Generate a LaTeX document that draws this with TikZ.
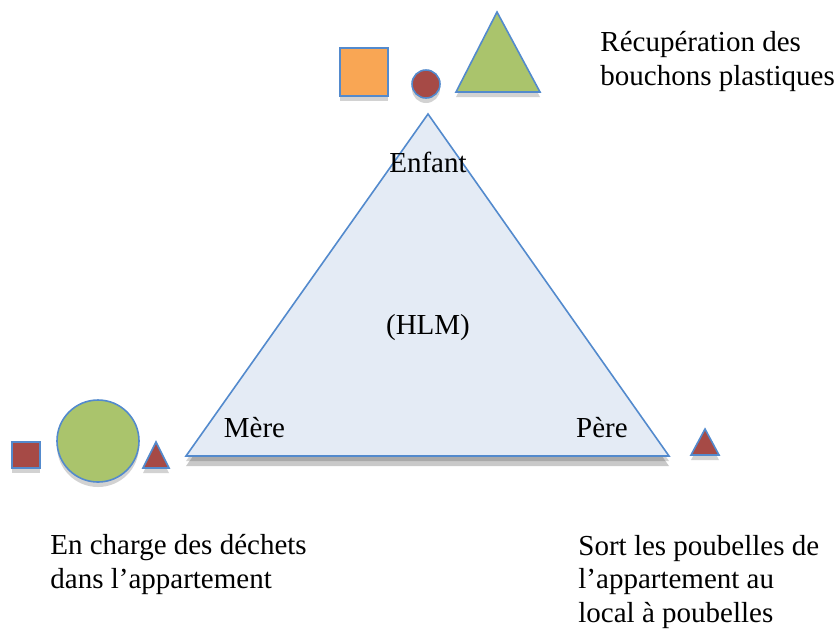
\documentclass[tikz,border=0pt]{standalone}
\usepackage{fontspec}
\setmainfont{Liberation Serif}
\usepackage{xcolor}
\definecolor{bord}{RGB}{83,138,205}
\definecolor{fondtri}{RGB}{228,235,245}
\definecolor{orange}{RGB}{249,166,84}
\definecolor{brique}{RGB}{166,74,70}
\definecolor{vert}{RGB}{170,196,108}
\usepackage{tikz}
\usetikzlibrary{shadows}

\begin{document}
\begin{tikzpicture}[x=0.5pt,y=-0.5pt,
  forme/.style={draw=bord,line width=0.8pt,drop shadow={shadow xshift=0pt,shadow yshift=-2.5pt,opacity=0.25,fill=black!70}},
  etiq/.style={font=\fontsize{14.5}{16.75}\selectfont,inner sep=0pt},
  bloc/.style={etiq,align=left,anchor=base west}]
  \useasboundingbox (0,0) rectangle (838,634);
  \draw[forme,fill=fondtri,drop shadow={shadow xshift=0pt,shadow yshift=-5pt,opacity=0.3,fill=black!70}]
    (428,114) -- (669,456) -- (186,456) -- cycle;
  \node[etiq,anchor=base] (enfant) at (428,172) {Enfant};
  \node[etiq,anchor=base] (hlm) at (428,334) {(HLM)};
  \node[etiq,anchor=base] (mere) at (254.5,437) {Mère};
  \node[etiq,anchor=base] (pere) at (602,437) {Père};
  \draw[forme,fill=orange] (340,48) rectangle (388,96);
  \draw[forme,fill=brique] (426,84) circle (14);
  \draw[forme,fill=vert] (497,12) -- (540,92) -- (456,92) -- cycle;
  \draw[forme,fill=brique] (12,442) rectangle (40,468);
  \draw[forme,fill=vert] (98,441) circle (41);
  \draw[forme,fill=brique] (156,442) -- (169,468) -- (143,468) -- cycle;
  \draw[forme,fill=brique] (705,429) -- (719,455) -- (691,455) -- cycle;
  \node[bloc] (recup) at (600,85) {Récupération des\\bouchons plastiques};
  \node[bloc] (mereact) at (50,588) {En charge des déchets\\dans l’appartement};
  \node[bloc] (pereact) at (578,622) {Sort les poubelles de\\l’appartement au\\local à poubelles};
\end{tikzpicture}
\end{document}
